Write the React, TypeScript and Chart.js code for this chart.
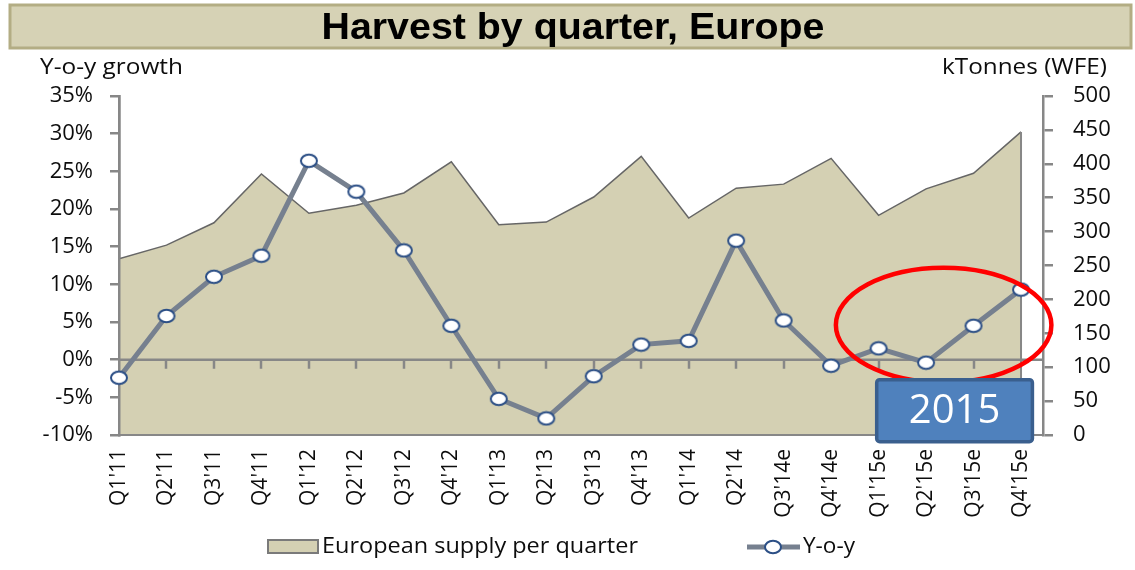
import React, { useEffect, useRef } from 'react';
import { Chart, registerables } from 'chart.js';

Chart.register(...registerables);

const QUARTERS = ["Q1'11", "Q2'11", "Q3'11", "Q4'11", "Q1'12", "Q2'12", "Q3'12", "Q4'12", "Q1'13", "Q2'13", "Q3'13", "Q4'13", "Q1'14", "Q2'14", "Q3'14e", "Q4'14e", "Q1'15e", "Q2'15e", "Q3'15e", "Q4'15e"];
const SUPPLY = [260, 280, 313, 385, 327, 339, 357, 403, 310, 314, 351, 411, 320, 364, 370, 408, 324, 363, 386, 447];
const YOY = [-2.4, 5.8, 11.0, 13.8, 26.4, 22.3, 14.5, 4.5, -5.2, -7.8, -2.2, 2.0, 2.5, 15.8, 5.2, -0.8, 1.5, -0.4, 4.5, 9.3];

const LEFT_MIN = -10;
const LEFT_MAX = 35;
const LEFT_STEP = 5;
const RIGHT_MIN = 0;
const RIGHT_MAX = 500;
const RIGHT_STEP = 50;

const TITLE = 'Harvest by quarter, Europe';
const LEFT_TITLE = 'Y-o-y growth';
const RIGHT_TITLE = 'kTonnes (WFE)';
const SERIES_AREA = 'European supply per quarter';
const SERIES_LINE = 'Y-o-y';
const NOTE = '2015';

const AXIS = '#878787';
const AREA_FILL = '#d4d0b3';
const AREA_LINE = '#666666';
const LINE = '#76808f';
const MARKER_EDGE = '#2c4f86';
const FONT = '"Open Sans", "Liberation Sans", sans-serif';
const TEXT = '#0d0d0d';

function makeMarker(): HTMLCanvasElement {
  const c = document.createElement('canvas');
  c.width = 20;
  c.height = 16;
  const g = c.getContext('2d')!;
  g.beginPath();
  g.ellipse(10, 8, 8, 6.2, 0, 0, Math.PI * 2);
  g.fillStyle = '#ffffff';
  g.fill();
  g.lineWidth = 2;
  g.strokeStyle = MARKER_EDGE;
  g.stroke();
  return c;
}

function fitText(ctx: CanvasRenderingContext2D, text: string, x: number, y: number, width: number, align: 'left' | 'right' | 'center') {
  const w = ctx.measureText(text).width;
  const k = width / w;
  ctx.save();
  ctx.translate(x, y);
  ctx.scale(k, 1);
  ctx.textAlign = align;
  ctx.fillText(text, 0, 0);
  ctx.restore();
}

export default function App() {
  const ref = useRef<HTMLCanvasElement | null>(null);

  useEffect(() => {
    if (!ref.current) return;
    const marker = makeMarker();

    const decor = {
      id: 'decor',
      beforeDraw(chart: any) {
        const { ctx } = chart;
        ctx.save();
        ctx.fillStyle = '#d6d2b5';
        ctx.fillRect(10, 5, 1121, 43);
        ctx.strokeStyle = '#b3ad84';
        ctx.lineWidth = 3;
        ctx.strokeRect(10, 5, 1121, 43);
        ctx.font = 'bold 37px "Liberation Sans", Arial, sans-serif';
        ctx.fillStyle = '#000000';
        ctx.textBaseline = 'alphabetic';
        fitText(ctx, TITLE, 573, 39, 503, 'center');
        ctx.font = '21px ' + FONT;
        ctx.fillStyle = TEXT;
        ctx.textBaseline = 'middle';
        fitText(ctx, LEFT_TITLE, 40, 68, 143, 'left');
        fitText(ctx, RIGHT_TITLE, 1107, 68, 165, 'right');
        ctx.restore();
      },
      afterDatasetDraw(chart: any, args: any) {
        if (args.index !== 0) return;
        const { ctx, chartArea, scales } = chart;
        const x = scales.x;
        const y = scales.y;
        const y2 = scales.y2;
        ctx.save();
        const y0 = y.getPixelForValue(0);
        ctx.strokeStyle = AXIS;
        ctx.lineWidth = 2.5;
        ctx.beginPath();
        ctx.moveTo(chartArea.left, y0);
        ctx.lineTo(chartArea.right, y0);
        for (let i = 1; i < QUARTERS.length - 1; i++) {
          const px = Math.round(x.getPixelForValue(i));
          ctx.moveTo(px, y0);
          ctx.lineTo(px, y0 + 9);
        }
        ctx.stroke();
        const last = SUPPLY.length - 1;
        const lx = x.getPixelForValue(last);
        ctx.lineWidth = 2;
        ctx.beginPath();
        ctx.moveTo(lx, y2.getPixelForValue(0));
        ctx.lineTo(lx, y2.getPixelForValue(SUPPLY[last]));
        ctx.stroke();
        ctx.restore();
        scales.x.drawBorder();
        scales.y.drawBorder();
      },
      afterDraw(chart: any) {
        const { ctx, scales } = chart;
        const x = scales.x;
        const y = scales.y;
        ctx.save();
        const cx = x.getPixelForValue(17.37);
        const cy = y.getPixelForValue(4.6);
        const rx = x.getPixelForValue(17.37 + 2.27) - cx;
        const ry = y.getPixelForValue(0) - y.getPixelForValue(7.6);
        ctx.beginPath();
        ctx.ellipse(cx, cy, rx, ry, 0, 0, Math.PI * 2);
        ctx.strokeStyle = '#ff0000';
        ctx.lineWidth = 4.5;
        ctx.stroke();
        const bx = x.getPixelForValue(15.96);
        const bw = x.getPixelForValue(19.24) - bx;
        const by = y.getPixelForValue(-2.65);
        const bh = 62;
        ctx.fillStyle = '#4f81bd';
        ctx.strokeStyle = '#3a5f8e';
        ctx.lineWidth = 3.5;
        ctx.beginPath();
        ctx.roundRect(bx, by, bw, bh, 3);
        ctx.fill();
        ctx.stroke();
        ctx.fillStyle = '#ffffff';
        ctx.font = '40px ' + FONT;
        ctx.textAlign = 'center';
        ctx.textBaseline = 'middle';
        ctx.fillText(NOTE, bx + bw / 2, by + bh / 2 + 1);
        const ly = 547;
        ctx.fillStyle = AREA_FILL;
        ctx.fillRect(268, 540, 50, 13);
        ctx.strokeStyle = '#7a7a7a';
        ctx.lineWidth = 2;
        ctx.strokeRect(268, 540, 50, 13);
        ctx.fillStyle = TEXT;
        ctx.font = '21px ' + FONT;
        ctx.textBaseline = 'middle';
        fitText(ctx, SERIES_AREA, 322, ly, 316, 'left');
        ctx.strokeStyle = LINE;
        ctx.lineWidth = 5;
        ctx.beginPath();
        ctx.moveTo(747, ly);
        ctx.lineTo(800, ly);
        ctx.stroke();
        ctx.drawImage(marker, 773 - 10, ly - 8);
        ctx.fillStyle = TEXT;
        fitText(ctx, SERIES_LINE, 803, ly, 52, 'left');
        ctx.restore();
      },
    };

    const chart = new Chart(ref.current, {
      type: 'line',
      data: {
        datasets: [
          {
            label: SERIES_AREA,
            data: SUPPLY.map((v, i) => ({ x: i, y: v })),
            yAxisID: 'y2',
            xAxisID: 'x',
            fill: 'origin',
            backgroundColor: AREA_FILL,
            borderColor: AREA_LINE,
            borderWidth: 1.5,
            pointRadius: 0,
            tension: 0,
            order: 2,
          },
          {
            label: SERIES_LINE,
            data: YOY.map((v, i) => ({ x: i, y: v })),
            yAxisID: 'y',
            xAxisID: 'x',
            fill: false,
            borderColor: LINE,
            borderWidth: 5,
            pointStyle: marker as any,
            pointRadius: 8,
            pointHoverRadius: 8,
            tension: 0,
            clip: false as any,
            order: 1,
          },
        ],
      },
      options: {
        responsive: false,
        maintainAspectRatio: false,
        devicePixelRatio: 1,
        animation: false,
        events: [],
        layout: { padding: { top: 96, left: 0, right: 0, bottom: 0 } },
        plugins: {
          legend: { display: false },
          title: { display: false },
          tooltip: { enabled: false },
        },
        scales: {
          x: {
            type: 'linear',
            position: 'bottom',
            min: 0,
            max: QUARTERS.length - 1 + 0.463,
            grid: { display: false, drawTicks: false },
            border: { display: true, color: AXIS, width: 2 },
            afterFit: (s: any) => { s.height = 135; },
            ticks: {
              stepSize: 1,
              autoSkip: false,
              includeBounds: false,
              minRotation: 90,
              maxRotation: 90,
              padding: 14,
              color: TEXT,
              font: { family: FONT, size: 21 },
              callback: (v: any) => QUARTERS[v] ?? '',
            },
          },
          y: {
            type: 'linear',
            position: 'left',
            min: LEFT_MIN,
            max: LEFT_MAX,
            afterFit: (s: any) => { s.width = 119; },
            grid: { drawOnChartArea: false, color: AXIS, lineWidth: 2.5, tickLength: 9 },
            border: { display: true, color: AXIS, width: 2.5 },
            ticks: {
              stepSize: LEFT_STEP,
              padding: 17,
              color: TEXT,
              font: { family: FONT, size: 22 },
              callback: (v: any) => v + '%',
            },
          },
          y2: {
            type: 'linear',
            position: 'right',
            min: RIGHT_MIN,
            max: RIGHT_MAX,
            afterFit: (s: any) => { s.width = 92; },
            grid: { drawOnChartArea: false, color: AXIS, lineWidth: 2.5, tickLength: 10 },
            border: { display: true, color: AXIS, width: 2.5 },
            ticks: {
              stepSize: RIGHT_STEP,
              padding: 20,
              color: TEXT,
              font: { family: FONT, size: 22 },
            },
          },
        },
      },
      plugins: [decor],
    } as any);

    return () => chart.destroy();
  }, []);

  return (
    <div style={{ position: 'fixed', left: 0, top: 0, width: 1135, height: 570, background: '#ffffff' }}>
      <canvas ref={ref} width={1135} height={570} style={{ display: 'block', width: 1135, height: 570 }} />
    </div>
  );
}
